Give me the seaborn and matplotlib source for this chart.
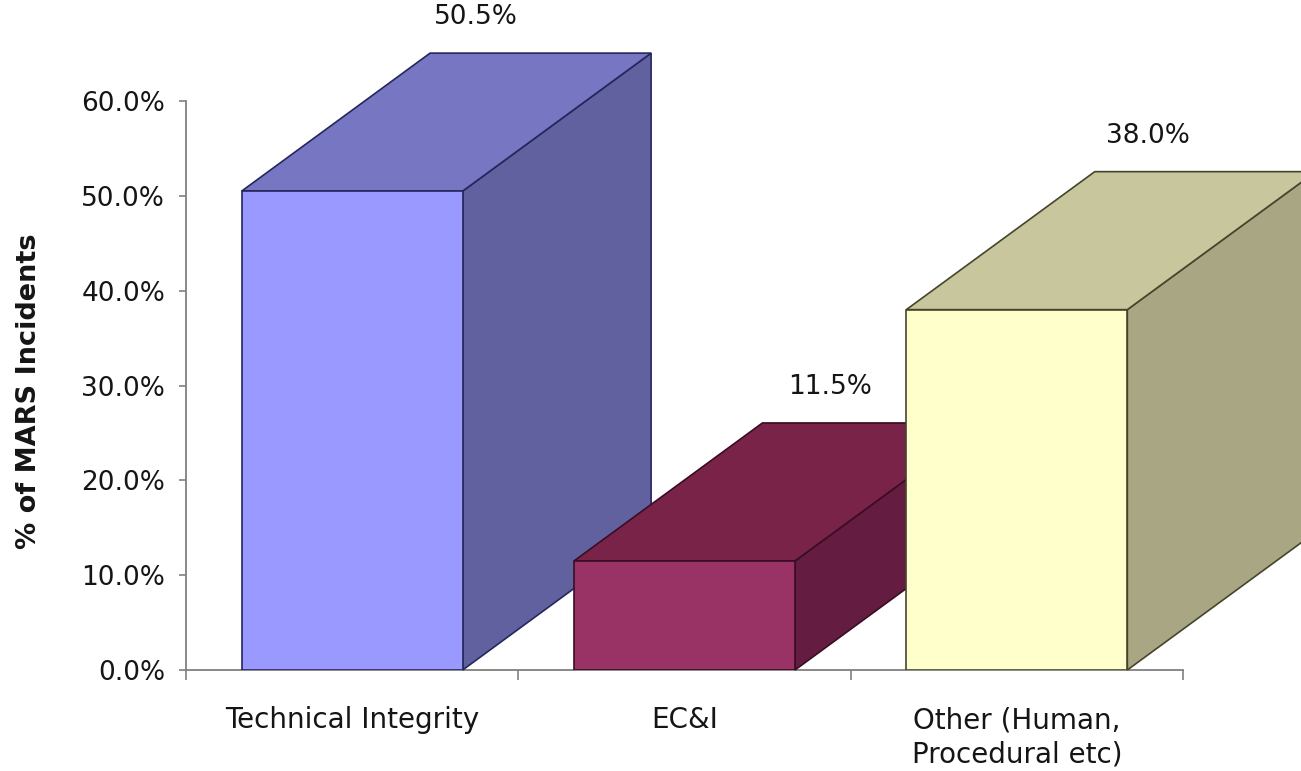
import matplotlib
matplotlib.use("Agg")
import matplotlib.pyplot as plt
from matplotlib.patches import Polygon
from matplotlib.ticker import FuncFormatter, FixedLocator
import seaborn as sns
import pandas as pd

# Share of MARS incidents by cause category
categories = ["Technical Integrity", "EC&I", "Other (Human,\nProcedural etc)"]
shares = [50.5, 11.5, 38.0]
value_labels = ["50.5%", "11.5%", "38.0%"]
y_ticks = [0, 10, 20, 30, 40, 50, 60]

# Face colours for each block: front, top, side, outline
front_colors = ["#9999FF", "#993366", "#FFFFCC"]
top_colors = ["#7676C2", "#7A2349", "#C8C69D"]
side_colors = ["#61619F", "#641D40", "#A9A683"]
edge_colors = ["#26265E", "#3A0D24", "#45452C"]

sns.set_style("white")
plt.rcParams["font.family"] = ["DejaVu Sans"]

fig = plt.figure(figsize=(13.01, 7.71), dpi=100)
ax = fig.add_axes([186 / 1301, 1 - 670 / 771, 997 / 1301, 569 / 771])

df = pd.DataFrame({"category": categories, "share": shares})
sns.barplot(data=df, x="category", y="share", hue="category",
            palette=front_colors, width=0.665, legend=False,
            saturation=1, ax=ax)

# depth of the extruded blocks, in data units
DX, DY = 0.567, 14.55

for i, bar in enumerate(ax.patches):
    x0 = bar.get_x()
    x1 = x0 + bar.get_width()
    h = bar.get_height()
    bar.set_edgecolor(edge_colors[i])
    bar.set_linewidth(1.2)
    bar.set_zorder(4 + 3 * i)
    side = Polygon([(x1, 0), (x1, h), (x1 + DX, h + DY), (x1 + DX, DY)],
                   closed=True, facecolor=side_colors[i],
                   edgecolor=edge_colors[i], linewidth=1.2,
                   clip_on=False, zorder=3 + 3 * i)
    top = Polygon([(x0, h), (x1, h), (x1 + DX, h + DY), (x0 + DX, h + DY)],
                  closed=True, facecolor=top_colors[i],
                  edgecolor=edge_colors[i], linewidth=1.2,
                  clip_on=False, zorder=3 + 3 * i)
    ax.add_patch(side)
    ax.add_patch(top)
    cx = x0 + bar.get_width() / 2
    # labels sit above the back edge, drifting left for taller blocks
    ax.text(cx + 0.458 - 0.00169 * h, h + DY + 3.8, value_labels[i],
            ha="center", va="center", fontsize=19, color="#151515",
            clip_on=False, zorder=20)

ax.set_xlim(-0.5, 2.5)
ax.set_ylim(0, 60)
ax.set_yticks(y_ticks)
ax.yaxis.set_major_formatter(FuncFormatter(lambda v, p: f"{v:.1f}%"))
ax.xaxis.set_minor_locator(FixedLocator([-0.5, 0.5, 1.5, 2.5]))

ax.tick_params(axis="x", which="major", length=0, pad=26,
               labelsize=20, labelcolor="#151515")
ax.tick_params(axis="x", which="minor", length=7, width=1.2,
               color="#808080", direction="out", bottom=True)
ax.tick_params(axis="y", which="major", length=5, width=1.2,
               color="#808080", direction="out", left=True, pad=10,
               labelsize=19, labelcolor="#151515")

for lbl in ax.get_xticklabels():
    lbl.set_linespacing(1.28)

ax.set_xlabel("")
ax.set_ylabel("% of MARS Incidents", fontsize=19.5, fontweight="bold",
              color="#151515")
ax.yaxis.set_label_coords(-0.1444, 0.49)

for s in ["top", "right"]:
    ax.spines[s].set_visible(False)
for s in ["left", "bottom"]:
    ax.spines[s].set_color("#808080")
    ax.spines[s].set_linewidth(1.3)
    ax.spines[s].set_zorder(1)

fig.savefig("out.png", dpi=100, facecolor="white")
